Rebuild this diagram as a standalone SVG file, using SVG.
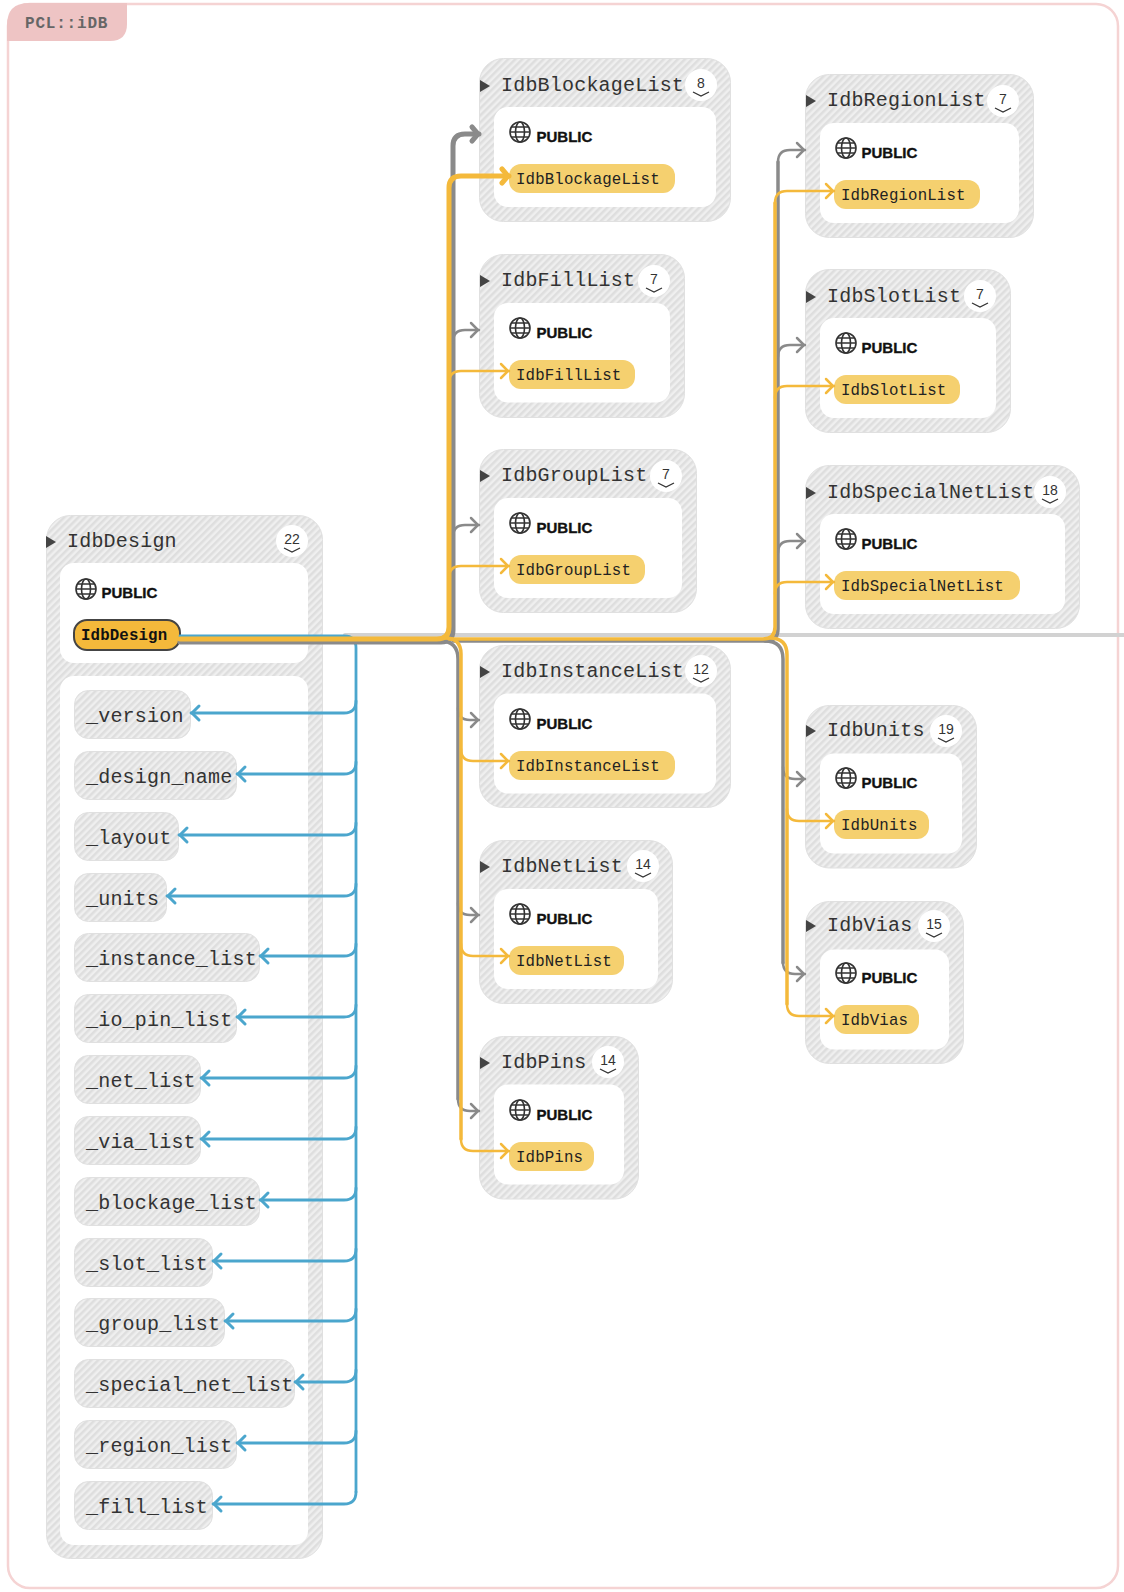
<svg xmlns="http://www.w3.org/2000/svg" width="1124" height="1592" viewBox="0 0 1124 1592">
<style>
.outer{fill:url(#hatch);stroke:#e0e0e0;stroke-width:1}
.inner{fill:#fff}
.title{font:20px "Liberation Mono",monospace;letter-spacing:.2px;fill:#333}
.pill{fill:#f5d06f}
.ptext{font:15.75px "Liberation Mono",monospace;letter-spacing:.13px;fill:#222}
.pub{font:bold 15px "Liberation Sans",sans-serif;fill:#111;stroke:#111;stroke-width:.35}
.field{fill:url(#hatch);stroke:#e0e0e0;stroke-width:1}
.badge{fill:#fff}
.num{font:14px "Liberation Sans",sans-serif;fill:#333;text-anchor:middle}
.chev{fill:none;stroke:#333;stroke-width:1.3}
.tri{fill:#444}
.globe{fill:none;stroke:#333;stroke-width:1.6}
.c{fill:none;stroke-linecap:round}
.g{stroke:#8a8a8a;stroke-width:2.5;marker-end:url(#ag)}
.gm{stroke:#8a8a8a;stroke-width:3.5}
.gt{stroke:#8a8a8a;stroke-width:5;marker-end:url(#agt)}
.y{stroke:#f4b93b;stroke-width:2.5;marker-end:url(#ay)}
.ym{stroke:#f4b93b;stroke-width:3.5}
.yt{stroke:#f4b93b;stroke-width:5;marker-end:url(#ayt)}
.b{stroke:#4ba6cd;stroke-width:2.8;marker-end:url(#ab)}
.bm{stroke:#4ba6cd;stroke-width:2.8}
</style>
<defs>
<pattern id="hatch" width="5" height="5" patternUnits="userSpaceOnUse" patternTransform="rotate(-45)">
<rect width="5" height="5" fill="#efefef"/><rect width="5" height="2.5" fill="#dedede"/>
</pattern>
<marker id="ag" markerUnits="userSpaceOnUse" markerWidth="20" markerHeight="20" refX="11" refY="10" orient="auto" overflow="visible"><path d="M3,3 L10,10 L3,17" fill="none" stroke="#8a8a8a" stroke-width="2.5" stroke-linecap="round"/></marker>
<marker id="agt" markerUnits="userSpaceOnUse" markerWidth="20" markerHeight="20" refX="11" refY="10" orient="auto" overflow="visible"><path d="M4,3 L10,10 L4,17" fill="none" stroke="#8a8a8a" stroke-width="5" stroke-linecap="round"/></marker>
<marker id="ay" markerUnits="userSpaceOnUse" markerWidth="20" markerHeight="20" refX="11" refY="10" orient="auto" overflow="visible"><path d="M3,3 L10,10 L3,17" fill="none" stroke="#f4b93b" stroke-width="2.5" stroke-linecap="round"/></marker>
<marker id="ayt" markerUnits="userSpaceOnUse" markerWidth="20" markerHeight="20" refX="11" refY="10" orient="auto" overflow="visible"><path d="M4,3 L10,10 L4,17" fill="none" stroke="#f4b93b" stroke-width="5" stroke-linecap="round"/></marker>
<marker id="ab" markerUnits="userSpaceOnUse" markerWidth="20" markerHeight="20" refX="11" refY="10" orient="auto" overflow="visible"><path d="M3,3 L10,10 L3,17" fill="none" stroke="#4ba6cd" stroke-width="3" stroke-linecap="round"/></marker>
<g id="gl"><circle r="10" class="globe"/><ellipse rx="4.5" ry="10" class="globe"/><path d="M-10,0H10M-9,-5H9M-9,5H9" class="globe"/></g>
<path id="tr" d="M0,-6 L10,0 L0,6Z" class="tri"/>
<path id="ch" d="M-8,0 L0,4 L8,0" class="chev"/>
</defs>

<rect id="frame" x="8" y="4" width="1110" height="1584" rx="22" fill="#fff" stroke="#f5d3d3" stroke-width="2.5"/>
<g id="namespace">
<path d="M7,25 Q7,3 29,3 H127 V24 Q127,41 110,41 H7Z" fill="#eec4c4"/>
<text x="25" y="28" style="font:bold 16px 'Liberation Mono',monospace;letter-spacing:.8px;fill:#666">PCL::iDB</text>
</g>

<g id="IdbDesign">
<rect class="outer" x="46.5" y="515.5" width="276" height="1043" rx="24"/>
<rect class="inner" x="60" y="563" width="248" height="100" rx="14"/>
<rect class="inner" x="60" y="676" width="248" height="869" rx="14"/>
<use href="#tr" x="46" y="542"/>
<text class="title" x="67" y="547">IdbDesign</text>
<circle class="badge" cx="292" cy="541" r="16"/><text class="num" x="292" y="544">22</text><use href="#ch" x="292" y="548"/>
<use href="#gl" x="86" y="589"/><text class="pub" x="101.5" y="598">PUBLIC</text>
<rect x="74" y="620" width="106" height="30" rx="13" fill="#f4b93b" stroke="#444" stroke-width="2"/>
<text x="81" y="640" style="font:bold 15.75px 'Liberation Mono',monospace;letter-spacing:.13px;fill:#111">IdbDesign</text>
</g>
<g id="field-version"><rect class="field" x="74.5" y="690.5" width="116" height="48" rx="14"/><text class="title" x="86" y="722">_version</text></g>
<g id="field-design-name"><rect class="field" x="74.5" y="751.5" width="162" height="48" rx="14"/><text class="title" x="86" y="783">_design_name</text></g>
<g id="field-layout"><rect class="field" x="74.5" y="812.5" width="104" height="48" rx="14"/><text class="title" x="86" y="844">_layout</text></g>
<g id="field-units"><rect class="field" x="74.5" y="873.5" width="92" height="48" rx="14"/><text class="title" x="86" y="905">_units</text></g>
<g id="field-instance-list"><rect class="field" x="74.5" y="933.5" width="185" height="48" rx="14"/><text class="title" x="86" y="965">_instance_list</text></g>
<g id="field-io-pin-list"><rect class="field" x="74.5" y="994.5" width="162" height="48" rx="14"/><text class="title" x="86" y="1026">_io_pin_list</text></g>
<g id="field-net-list"><rect class="field" x="74.5" y="1055.5" width="126" height="48" rx="14"/><text class="title" x="86" y="1087">_net_list</text></g>
<g id="field-via-list"><rect class="field" x="74.5" y="1116.5" width="126" height="48" rx="14"/><text class="title" x="86" y="1148">_via_list</text></g>
<g id="field-blockage-list"><rect class="field" x="74.5" y="1177.5" width="185" height="48" rx="14"/><text class="title" x="86" y="1209">_blockage_list</text></g>
<g id="field-slot-list"><rect class="field" x="74.5" y="1238.5" width="138" height="48" rx="14"/><text class="title" x="86" y="1270">_slot_list</text></g>
<g id="field-group-list"><rect class="field" x="74.5" y="1298.5" width="150" height="48" rx="14"/><text class="title" x="86" y="1330">_group_list</text></g>
<g id="field-special-net-list"><rect class="field" x="74.5" y="1359.5" width="220" height="48" rx="14"/><text class="title" x="86" y="1391">_special_net_list</text></g>
<g id="field-region-list"><rect class="field" x="74.5" y="1420.5" width="162" height="48" rx="14"/><text class="title" x="86" y="1452">_region_list</text></g>
<g id="field-fill-list"><rect class="field" x="74.5" y="1481.5" width="138" height="48" rx="14"/><text class="title" x="86" y="1513">_fill_list</text></g>

<g id="IdbBlockageList"><rect class="outer" x="479.5" y="58.5" width="251" height="163" rx="24"/><rect class="inner" x="494" y="107" width="222" height="100" rx="14"/><use href="#tr" x="480" y="86"/><text class="title" x="501" y="91">IdbBlockageList</text><circle class="badge" cx="701" cy="85" r="16"/><text class="num" x="701" y="88">8</text><use href="#ch" x="701" y="92"/><use href="#gl" x="520" y="132"/><text class="pub" x="536.5" y="142">PUBLIC</text><rect class="pill" x="509" y="164" width="166" height="29" rx="12"/><text class="ptext" x="516" y="184">IdbBlockageList</text></g>
<g id="IdbFillList"><rect class="outer" x="479.5" y="254.5" width="205" height="163" rx="24"/><rect class="inner" x="494" y="303" width="176" height="99.5" rx="14"/><use href="#tr" x="480" y="281"/><text class="title" x="501" y="286">IdbFillList</text><circle class="badge" cx="654" cy="281" r="16"/><text class="num" x="654" y="284">7</text><use href="#ch" x="654" y="288"/><use href="#gl" x="520" y="328"/><text class="pub" x="536.5" y="338">PUBLIC</text><rect class="pill" x="509" y="360" width="126" height="29" rx="12"/><text class="ptext" x="516" y="380">IdbFillList</text></g>
<g id="IdbGroupList"><rect class="outer" x="479.5" y="449.5" width="217" height="163" rx="24"/><rect class="inner" x="494" y="498" width="188" height="100" rx="14"/><use href="#tr" x="480" y="476"/><text class="title" x="501" y="481">IdbGroupList</text><circle class="badge" cx="666" cy="476" r="16"/><text class="num" x="666" y="479">7</text><use href="#ch" x="666" y="483"/><use href="#gl" x="520" y="523"/><text class="pub" x="536.5" y="533">PUBLIC</text><rect class="pill" x="509" y="555" width="136" height="29" rx="12"/><text class="ptext" x="516" y="575">IdbGroupList</text></g>
<g id="IdbInstanceList"><rect class="outer" x="479.5" y="645.5" width="251" height="162" rx="24"/><rect class="inner" x="494" y="693.5" width="222" height="100" rx="14"/><use href="#tr" x="480" y="672"/><text class="title" x="501" y="677">IdbInstanceList</text><circle class="badge" cx="701" cy="671" r="16"/><text class="num" x="701" y="674">12</text><use href="#ch" x="701" y="678"/><use href="#gl" x="520" y="719"/><text class="pub" x="536.5" y="729">PUBLIC</text><rect class="pill" x="509" y="751" width="166" height="29" rx="12"/><text class="ptext" x="516" y="771">IdbInstanceList</text></g>
<g id="IdbNetList"><rect class="outer" x="479.5" y="840.5" width="193" height="163" rx="24"/><rect class="inner" x="494" y="889" width="164" height="100" rx="14"/><use href="#tr" x="480" y="867"/><text class="title" x="501" y="872">IdbNetList</text><circle class="badge" cx="643" cy="866" r="16"/><text class="num" x="643" y="869">14</text><use href="#ch" x="643" y="873"/><use href="#gl" x="520" y="914"/><text class="pub" x="536.5" y="924">PUBLIC</text><rect class="pill" x="509" y="946" width="115" height="29" rx="12"/><text class="ptext" x="516" y="966">IdbNetList</text></g>
<g id="IdbPins"><rect class="outer" x="479.5" y="1036.5" width="159" height="162.5" rx="24"/><rect class="inner" x="494" y="1084.5" width="130" height="100" rx="14"/><use href="#tr" x="480" y="1063"/><text class="title" x="501" y="1068">IdbPins</text><circle class="badge" cx="608" cy="1062" r="16"/><text class="num" x="608" y="1065">14</text><use href="#ch" x="608" y="1069"/><use href="#gl" x="520" y="1110"/><text class="pub" x="536.5" y="1120">PUBLIC</text><rect class="pill" x="509" y="1142" width="85" height="29" rx="12"/><text class="ptext" x="516" y="1162">IdbPins</text></g>

<g id="IdbRegionList"><rect class="outer" x="805.5" y="74.5" width="228" height="163" rx="24"/><rect class="inner" x="820" y="123" width="199" height="100" rx="14"/><use href="#tr" x="806" y="101"/><text class="title" x="827" y="106">IdbRegionList</text><circle class="badge" cx="1003" cy="101" r="16"/><text class="num" x="1003" y="104">7</text><use href="#ch" x="1003" y="108"/><use href="#gl" x="846" y="148"/><text class="pub" x="861.5" y="158">PUBLIC</text><rect class="pill" x="834" y="180" width="146" height="29" rx="12"/><text class="ptext" x="841" y="200">IdbRegionList</text></g>
<g id="IdbSlotList"><rect class="outer" x="805.5" y="269.5" width="205" height="163" rx="24"/><rect class="inner" x="820" y="318" width="176" height="100" rx="14"/><use href="#tr" x="806" y="297"/><text class="title" x="827" y="302">IdbSlotList</text><circle class="badge" cx="980" cy="296" r="16"/><text class="num" x="980" y="299">7</text><use href="#ch" x="980" y="303"/><use href="#gl" x="846" y="343"/><text class="pub" x="861.5" y="353">PUBLIC</text><rect class="pill" x="834" y="375" width="126" height="29" rx="12"/><text class="ptext" x="841" y="395">IdbSlotList</text></g>
<g id="IdbSpecialNetList"><rect class="outer" x="805.5" y="465.5" width="274" height="163" rx="24"/><rect class="inner" x="820" y="514" width="245" height="100" rx="14"/><use href="#tr" x="806" y="493"/><text class="title" x="827" y="498">IdbSpecialNetList</text><circle class="badge" cx="1050" cy="492" r="16"/><text class="num" x="1050" y="495">18</text><use href="#ch" x="1050" y="499"/><use href="#gl" x="846" y="539"/><text class="pub" x="861.5" y="549">PUBLIC</text><rect class="pill" x="834" y="571" width="186" height="29" rx="12"/><text class="ptext" x="841" y="591">IdbSpecialNetList</text></g>
<g id="IdbUnits"><rect class="outer" x="805.5" y="705.5" width="171" height="162.5" rx="24"/><rect class="inner" x="820" y="753.5" width="142" height="100" rx="14"/><use href="#tr" x="806" y="731"/><text class="title" x="827" y="736">IdbUnits</text><circle class="badge" cx="946" cy="731" r="16"/><text class="num" x="946" y="734">19</text><use href="#ch" x="946" y="738"/><use href="#gl" x="846" y="778"/><text class="pub" x="861.5" y="788">PUBLIC</text><rect class="pill" x="834" y="810" width="95" height="29" rx="12"/><text class="ptext" x="841" y="830">IdbUnits</text></g>
<g id="IdbVias"><rect class="outer" x="805.5" y="901.5" width="158" height="162" rx="24"/><rect class="inner" x="820" y="949.5" width="129" height="100" rx="14"/><use href="#tr" x="806" y="926"/><text class="title" x="827" y="931">IdbVias</text><circle class="badge" cx="934" cy="926" r="16"/><text class="num" x="934" y="929">15</text><use href="#ch" x="934" y="933"/><use href="#gl" x="846" y="973"/><text class="pub" x="861.5" y="983">PUBLIC</text><rect class="pill" x="834" y="1005" width="85" height="29" rx="12"/><text class="ptext" x="841" y="1025">IdbVias</text></g>

<g id="connectors" class="c">
<path class="c" d="M345,635 H1124" stroke="#d2d2d2" stroke-width="4"/>
<path class="c bm" d="M180,636 H344 Q356,636 356,648 V1492"/>
<path class="c b" d="M356,701 Q356,713 344,713 H191"/>
<path class="c b" d="M356,762 Q356,774 344,774 H237"/>
<path class="c b" d="M356,823 Q356,835 344,835 H179"/>
<path class="c b" d="M356,884 Q356,896 344,896 H167"/>
<path class="c b" d="M356,944 Q356,956 344,956 H260"/>
<path class="c b" d="M356,1005 Q356,1017 344,1017 H237"/>
<path class="c b" d="M356,1066 Q356,1078 344,1078 H201"/>
<path class="c b" d="M356,1127 Q356,1139 344,1139 H201"/>
<path class="c b" d="M356,1188 Q356,1200 344,1200 H260"/>
<path class="c b" d="M356,1249 Q356,1261 344,1261 H213"/>
<path class="c b" d="M356,1309 Q356,1321 344,1321 H225"/>
<path class="c b" d="M356,1370 Q356,1382 344,1382 H295"/>
<path class="c b" d="M356,1431 Q356,1443 344,1443 H237"/>
<path class="c b" d="M356,1492 Q356,1504 344,1504 H213"/>
<path class="c gt" d="M180,642 H441 Q453,642 453,630 V146 Q453,134 465,134 H479"/>
<path class="c g" d="M453,342 Q453,330 465,330 H479"/>
<path class="c g" d="M453,537 Q453,525 465,525 H479"/>
<path class="c gm" d="M453,641 H766 Q778,641 778,629 V162"/>
<path class="c g" d="M778,162 Q778,150 790,150 H805"/>
<path class="c g" d="M778,357 Q778,345 790,345 H805"/>
<path class="c g" d="M778,553 Q778,541 790,541 H805"/>
<path class="c gm" d="M440,641 Q458,641 458,659 V1099"/>
<path class="c g" d="M458,1099 Q458,1111 470,1111 H479"/>
<path class="c g" d="M458,708 Q458,720 470,720 H479"/>
<path class="c g" d="M458,903 Q458,915 470,915 H479"/>
<path class="c gm" d="M765,641 Q783,641 783,659 V963"/>
<path class="c g" d="M783,962 Q783,974 795,974 H805"/>
<path class="c g" d="M783,767 Q783,779 795,779 H805"/>
<path class="c yt" d="M180,639 H437 Q449,639 449,627 V188 Q449,176 461,176 H509"/>
<path class="c y" d="M449,383 Q449,371 461,371 H509"/>
<path class="c y" d="M449,578 Q449,566 461,566 H509"/>
<path class="c ym" d="M449,639 H763 Q775,639 775,627 V203"/>
<path class="c y" d="M775,203 Q775,191 787,191 H834"/>
<path class="c y" d="M775,398 Q775,386 787,386 H834"/>
<path class="c y" d="M775,594 Q775,582 787,582 H834"/>
<path class="c ym" d="M445,638 Q461,638 461,654 V1139"/>
<path class="c y" d="M461,1139 Q461,1151 473,1151 H509"/>
<path class="c y" d="M461,749 Q461,761 473,761 H509"/>
<path class="c y" d="M461,944 Q461,956 473,956 H509"/>
<path class="c ym" d="M770,638 Q787,638 787,655 V1004"/>
<path class="c y" d="M787,1004 Q787,1016 799,1016 H834"/>
<path class="c y" d="M787,809 Q787,821 799,821 H834"/>
</g>
</svg>
